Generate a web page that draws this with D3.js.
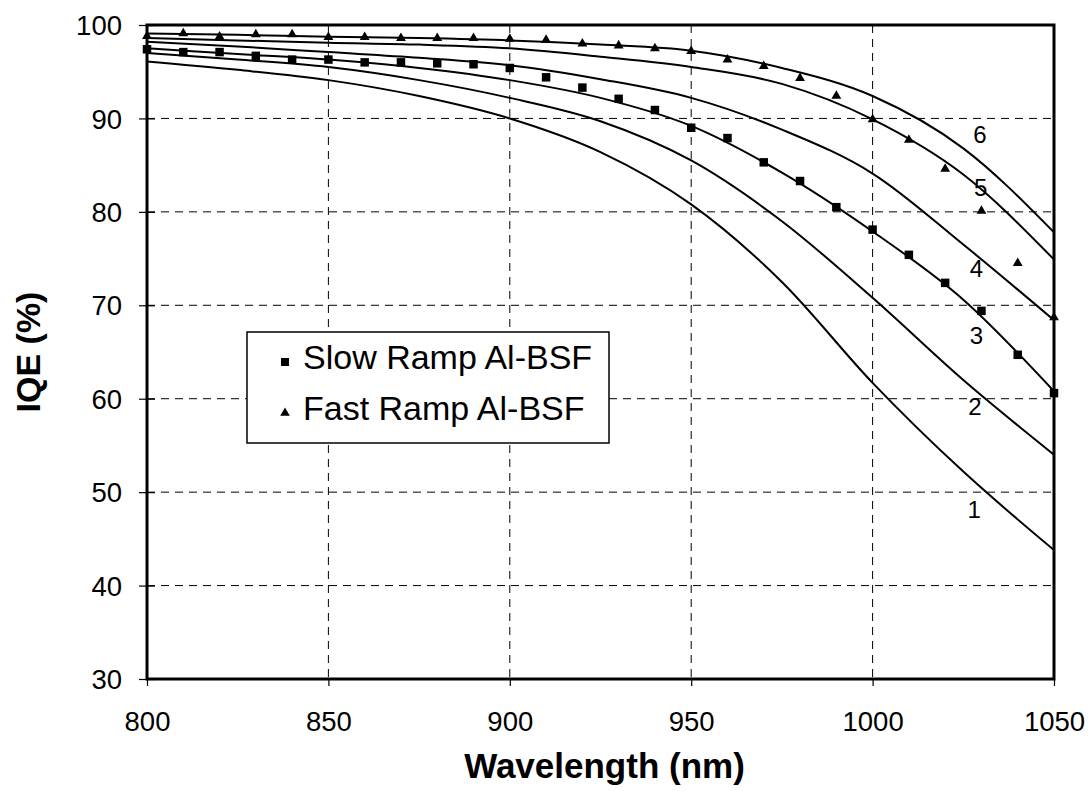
<!DOCTYPE html>
<html><head><meta charset="utf-8">
<script src="https://cdn.jsdelivr.net/npm/d3@7"></script>
<style>body{margin:0;background:#fff}svg{display:block}</style>
</head><body>
<svg id="c" width="1091" height="791"></svg>
<script>
// ---- data ----
const curveWl = [800, 825, 850, 875, 900, 925, 950, 975, 1000, 1025, 1050];
const curve1 = [96.1, 95.2, 94.1, 92.4, 90.0, 86.4, 80.8, 72.5, 61.7, 52.2, 43.8];
const curve2 = [97.0, 96.3, 95.5, 94.1, 92.2, 89.7, 85.5, 79.0, 70.8, 62.0, 54.0];
const curve3 = [97.5, 96.9, 96.3, 95.4, 94.1, 92.2, 89.2, 84.2, 77.9, 70.6, 60.8];
const curve4 = [98.2, 97.7, 97.1, 96.5, 95.7, 94.2, 92.2, 88.8, 84.1, 76.5, 68.4];
const curve5 = [98.6, 98.35, 98.1, 97.9, 97.5, 96.6, 95.5, 93.7, 89.9, 84.0, 74.9];
const curve6 = [99.1, 98.95, 98.75, 98.6, 98.35, 97.9, 97.25, 95.4, 92.4, 86.8, 77.8];
const curveNames = ["1", "2", "3", "4", "5", "6"];
const curveLabelWl = [1028.0, 1028.2, 1028.6, 1028.6, 1029.8, 1029.6];
const curveLabelVal = [48.1, 59.2, 66.8, 73.9, 82.6, 88.3];

const pointWl = [800, 810, 820, 830, 840, 850, 860, 870, 880, 890, 900, 910, 920, 930, 940, 950, 960, 970, 980, 990, 1000, 1010, 1020, 1030, 1040, 1050];
const slowRamp = [97.4, 97.1, 97.1, 96.7, 96.3, 96.3, 96.0, 96.0, 95.9, 95.8, 95.4, 94.4, 93.3, 92.1, 90.9, 89.0, 87.9, 85.3, 83.3, 80.5, 78.1, 75.4, 72.4, 69.4, 64.7, 60.6];
const fastRamp = [98.8, 99.1, 98.75, 99.0, 99.0, 98.7, 98.7, 98.6, 98.6, 98.6, 98.5, 98.4, 98.0, 97.8, 97.5, 97.2, 96.3, 95.6, 94.3, 92.4, 89.9, 87.7, 84.6, 80.1, 74.5, 68.7];
const seriesNames = ["Slow Ramp Al-BSF", "Fast Ramp Al-BSF"];

const xTicks = [800, 850, 900, 950, 1000, 1050];
const yTicks = [30, 40, 50, 60, 70, 80, 90, 100];
const xTitle = "Wavelength (nm)";
const yTitle = "IQE (%)";

// ---- layout ----
const svg = d3.select("#c");
const L = 147, R = 1054, T = 25, B = 679;
const x = d3.scaleLinear().domain([800, 1050]).range([L, R]);
const y = d3.scaleLinear().domain([30, 100]).range([B, T]);
const font = "'Liberation Sans', Arial, sans-serif";

// grid
const g = svg.append("g");
g.selectAll(".gx").data(xTicks.slice(1, -1)).join("line")
  .attr("x1", d => x(d)).attr("x2", d => x(d)).attr("y1", T).attr("y2", B)
  .attr("stroke", "#000").attr("stroke-width", 1).attr("stroke-dasharray", "8,6");
g.selectAll(".gy").data(yTicks.slice(1, -1)).join("line")
  .attr("x1", L).attr("x2", R).attr("y1", d => y(d)).attr("y2", d => y(d))
  .attr("stroke", "#000").attr("stroke-width", 1).attr("stroke-dasharray", "8,6");

// axes
const xAxis = svg.append("g").attr("transform", `translate(0,${B})`)
  .call(d3.axisBottom(x).tickValues(xTicks).tickSize(7).tickFormat(d3.format("d")));
const yAxis = svg.append("g").attr("transform", `translate(${L},0)`)
  .call(d3.axisLeft(y).tickValues(yTicks).tickSize(8).tickFormat(d3.format("d")));
[xAxis, yAxis].forEach(a => {
  a.select(".domain").remove();
  a.selectAll(".tick line").attr("stroke", "#000").attr("stroke-width", 1.2);
  a.selectAll("text").attr("font-family", font).attr("font-size", 27.5).attr("fill", "#000");
});
yAxis.selectAll(".tick line").attr("x1", 8);
xAxis.selectAll("text").attr("dy", 0).attr("y", 52);
yAxis.selectAll("text").attr("x", -25).attr("dy", "0.35em");

// curves
const curves = [curve1, curve2, curve3, curve4, curve5, curve6];
const line = d3.line().x(d => x(d[0])).y(d => y(d[1])).curve(d3.curveMonotoneX);
svg.append("g").selectAll("path").data(curves).join("path")
  .attr("d", c => line(curveWl.map((w, i) => [w, c[i]])))
  .attr("fill", "none").attr("stroke", "#000").attr("stroke-width", 2);

// curve labels
svg.append("g").selectAll("text").data(curveNames).join("text")
  .attr("x", (d, i) => x(curveLabelWl[i])).attr("y", (d, i) => y(curveLabelVal[i]))
  .attr("text-anchor", "middle").attr("dominant-baseline", "central")
  .attr("font-family", font).attr("font-size", 24).text(d => d);

// markers
const sq = d3.symbol().type(d3.symbolSquare).size(72);
const tri = d3.symbol().type(d3.symbolTriangle).size(42);
svg.append("g").selectAll("path").data(pointWl.map((w, i) => [w, slowRamp[i]])).join("path")
  .attr("transform", d => `translate(${x(d[0])},${y(d[1])})`).attr("d", sq).attr("fill", "#000");
svg.append("g").selectAll("path").data(pointWl.map((w, i) => [w, fastRamp[i]])).join("path")
  .attr("transform", d => `translate(${x(d[0])},${y(d[1])})`).attr("d", tri).attr("fill", "#000");

// frame
svg.append("rect").attr("x", L).attr("y", T).attr("width", R - L).attr("height", B - T)
  .attr("fill", "none").attr("stroke", "#000").attr("stroke-width", 3);

// legend
const lg = svg.append("g");
lg.append("rect").attr("x", 247).attr("y", 332).attr("width", 362).attr("height", 111)
  .attr("fill", "#fff").attr("stroke", "#000").attr("stroke-width", 1.5);
lg.append("path").attr("transform", "translate(285,362)").attr("d", d3.symbol().type(d3.symbolSquare).size(64)).attr("fill", "#000");
lg.append("path").attr("transform", "translate(285,413)").attr("d", d3.symbol().type(d3.symbolTriangle).size(40)).attr("fill", "#000");
lg.selectAll("text").data(seriesNames).join("text")
  .attr("x", 303).attr("y", (d, i) => 369 + i * 51)
  .attr("font-family", font).attr("font-size", 34).text(d => d);

// titles
svg.append("text").attr("x", (L + R) / 2 + 4).attr("y", 778).attr("text-anchor", "middle")
  .attr("font-family", font).attr("font-weight", "bold").attr("font-size", 35).text(xTitle);
svg.append("text").attr("transform", `translate(40,352) rotate(-90)`).attr("text-anchor", "middle")
  .attr("font-family", font).attr("font-weight", "bold").attr("font-size", 34).text(yTitle);
</script>
</body></html>
